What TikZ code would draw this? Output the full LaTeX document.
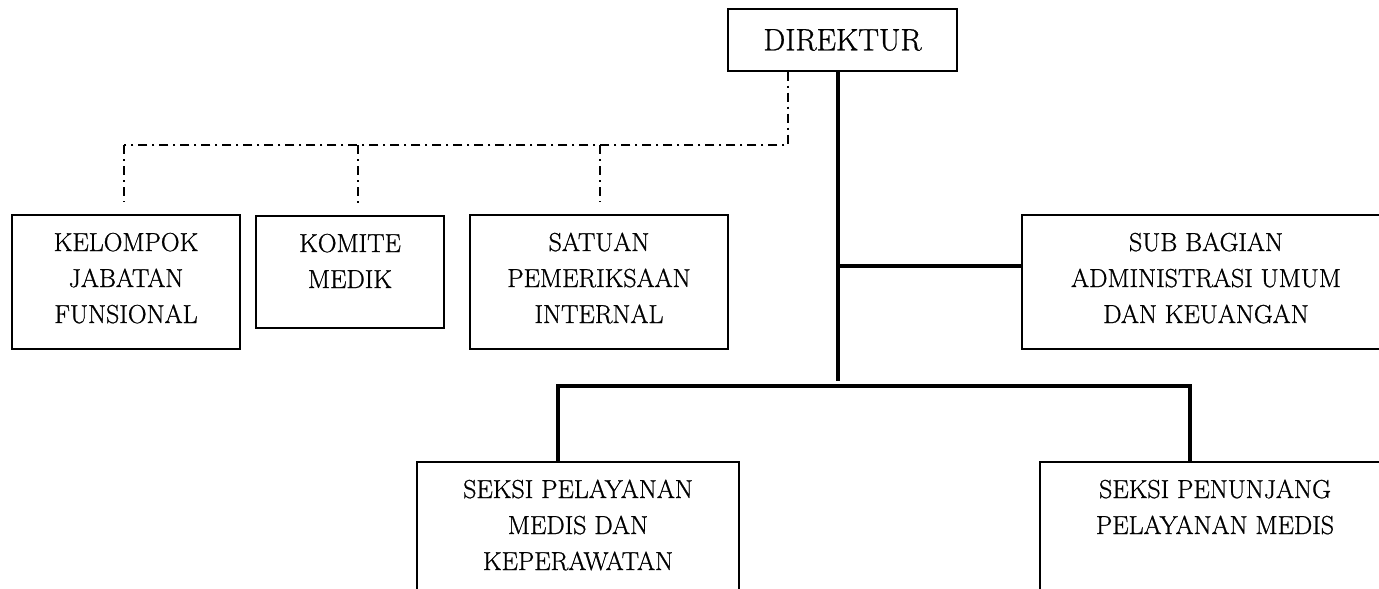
\documentclass[tikz,border=0pt]{standalone}
\usepackage{fontspec}
\setmainfont{Latin Modern Roman}[RawFeature={embolden=0.9}]
\newcommand{\orgtext}[3]{\parbox[c][#2pt][t]{#1pt}{\centering\rule{0pt}{36pt}#3}}
\begin{document}
\begin{tikzpicture}[x=1pt,y=-1pt,
  orgbox/.style={draw, rectangle, line width=1.3pt, inner sep=0pt,
    font=\fontsize{26}{36}\selectfont},
  dirbox/.style={draw, rectangle, line width=1.3pt, inner sep=0pt,
    minimum width=229pt, minimum height=62pt, font=\fontsize{31}{36}\selectfont},
  trunk/.style={line width=3.6pt},
  dd/.style={line width=1.3pt, dash pattern=on 9pt off 5pt on 2pt off 5pt}]
\useasboundingbox (0,0) rectangle (1379,589);
\clip (0,0) rectangle (1379,589);
% boxes
\node[dirbox] (dir) at (842.5,40) {DIREKTUR};
\node[orgbox] (kel) at (126,282) {\orgtext{228}{134}{KELOMPOK\\JABATAN\\FUNSIONAL}};
\node[orgbox] (kom) at (350,272) {\orgtext{188}{112}{KOMITE\\MEDIK}};
\node[orgbox] (sat) at (599,282) {\orgtext{258}{134}{SATUAN\\PEMERIKSAAN\\INTERNAL}};
\node[orgbox] (sub) at (1206,282) {\orgtext{368}{134}{SUB BAGIAN\\ADMINISTRASI UMUM\\DAN KEUANGAN}};
\node[orgbox] (pel) at (578,537) {\orgtext{322}{150}{SEKSI PELAYANAN\\MEDIS DAN\\KEPERAWATAN}};
\node[orgbox] (pen) at (1215,537) {\orgtext{350}{150}{SEKSI PENUNJANG\\PELAYANAN MEDIS}};
% dash-dot staff line
\coordinate (dj) at (788,145);
\coordinate (dl) at (124,145);
\coordinate (dm) at (358,145);
\coordinate (dr) at (600,145);
\draw[dd] (dir.south -| dj) -- (dj) -- (dl);
\draw[dd, shorten >=12pt] (dl) -- (dl |- kel.north);
\draw[dd, shorten >=12pt] (dm) -- (dm |- kom.north);
\draw[dd, shorten >=12pt] (dr) -- (dr |- sat.north);
% solid line structure
\coordinate (tr) at (838,381);
\coordinate (sj) at (838,266);
\coordinate (bl) at (558,386);
\coordinate (br) at (1190,386);
\draw[trunk] (dir.south -| tr) -- (tr);
\draw[trunk] (sj) -- (sj -| sub.west);
\draw[trunk] (pel.north -| bl) -- (bl) -- (br) -- (pen.north -| br);
\end{tikzpicture}
\end{document}
